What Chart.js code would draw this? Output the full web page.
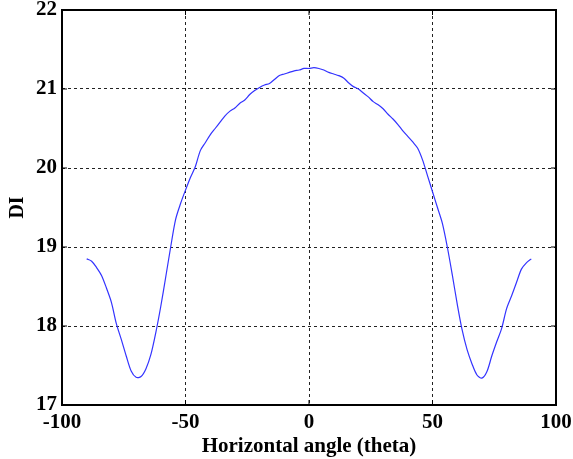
<!DOCTYPE html>
<html lang="en">
<head>
    <meta charset="UTF-8">
    <title>DI vs Horizontal angle</title>
    <style>
        body { margin: 0; background: #fff; }
        .CardStyle { width: 573px; height: 459px; }
    </style>
</head>
<body>
    <div class="CardStyle">
        <canvas id="myChart" width="573" height="459"></canvas>
    </div>

    <script src="https://cdn.jsdelivr.net/npm/chart.js"></script>
    <script>
    // angles (deg) and DI values
    const angles = [-90, -88, -86, -84, -82, -80, -78, -76, -74, -72, -70, -68, -66, -64, -62, -60,
        -58, -56, -54, -52, -50, -48, -46, -44, -42, -40, -38, -36, -34, -32, -30, -28, -26, -24,
        -22, -20, -18, -16, -14, -12, -10, -8, -6, -4, -2, 0, 2, 4, 6, 8, 10, 12, 14, 16, 18, 20,
        22, 24, 26, 28, 30, 32, 34, 36, 38, 40, 42, 44, 46, 48, 50, 52, 54, 56, 58, 60, 62, 64,
        66, 68, 70, 72, 74, 76, 78, 80, 82, 84, 86, 88, 90];
    const diValues = [18.85, 18.82, 18.74, 18.64, 18.48, 18.30, 18.03, 17.83, 17.62, 17.43, 17.35,
        17.36, 17.46, 17.64, 17.92, 18.25, 18.62, 19.00, 19.35, 19.55, 19.72, 19.88, 20.02, 20.22,
        20.32, 20.42, 20.50, 20.58, 20.66, 20.72, 20.76, 20.82, 20.86, 20.93, 20.98, 21.02, 21.05,
        21.07, 21.12, 21.17, 21.19, 21.21, 21.23, 21.24, 21.26, 21.26, 21.27, 21.26, 21.24, 21.21,
        21.19, 21.17, 21.14, 21.08, 21.03, 21.00, 20.95, 20.90, 20.84, 20.80, 20.75, 20.68, 20.62,
        20.55, 20.47, 20.40, 20.33, 20.25, 20.10, 19.90, 19.70, 19.50, 19.30, 19.00, 18.65, 18.28,
        17.95, 17.70, 17.52, 17.38, 17.34, 17.42, 17.62, 17.80, 17.97, 18.22, 18.38, 18.55, 18.72,
        18.80, 18.85];
    const xTicks = [-100, -50, 0, 50, 100];
    const yTicks = [17, 18, 19, 20, 21, 22];

    const points = angles.map((a, i) => ({ x: a, y: diValues[i] }));

    // box + inward ticks, matlab style
    const boxPlugin = {
        id: 'box',
        afterDraw(chart) {
            const { ctx, chartArea: a, scales } = chart;
            ctx.save();
            ctx.strokeStyle = '#000';
            ctx.lineWidth = 1;
            ctx.beginPath();
            xTicks.forEach(v => {
                const px = scales.x.getPixelForValue(v);
                ctx.moveTo(px, a.bottom); ctx.lineTo(px, a.bottom - 5);
                ctx.moveTo(px, a.top); ctx.lineTo(px, a.top + 5);
            });
            yTicks.forEach(v => {
                const py = scales.y.getPixelForValue(v);
                ctx.moveTo(a.left, py); ctx.lineTo(a.left + 5, py);
                ctx.moveTo(a.right, py); ctx.lineTo(a.right - 5, py);
            });
            ctx.stroke();
            ctx.lineWidth = 2;
            ctx.strokeRect(a.left, a.top, a.right - a.left, a.bottom - a.top);
            ctx.restore();
        }
    };

    const ctx = document.getElementById('myChart');
    const chartConfig = {
        type: 'line',
        data: {
            datasets: [{
                data: points,
                borderColor: '#3333ff',
                borderWidth: 1.2,
                pointRadius: 0,
                tension: 0.3,
                fill: false,
            }]
        },
        options: {
            responsive: false,
            animation: false,
            layout: { padding: { top: 10, right: 17, left: 0, bottom: 0 } },
            plugins: {
                legend: { display: false },
                tooltip: { enabled: false },
            },
            scales: {
                x: {
                    type: 'linear',
                    min: -100,
                    max: 100,
                    afterBuildTicks: s => { s.ticks = xTicks.map(v => ({ value: v })); },
                    afterFit: s => { s.height = 54; s.paddingLeft = 0; s.paddingRight = 0; },
                    grid: {
                        color: '#222',
                        drawTicks: false,
                    },
                    border: { display: false, dash: [3, 3] },
                    ticks: {
                        color: '#000',
                        padding: 5,
                        maxRotation: 0,
                        font: { family: 'Liberation Serif', weight: 'bold', size: 21 },
                    },
                    title: {
                        display: true,
                        text: 'Horizontal angle (theta)',
                        color: '#000',
                        padding: { top: 0, bottom: 0 },
                        font: { family: 'Liberation Serif', weight: 'bold', size: 21 },
                    },
                },
                y: {
                    min: 17,
                    max: 22,
                    afterBuildTicks: s => { s.ticks = yTicks.map(v => ({ value: v })); },
                    afterFit: s => { s.width = 62; s.paddingTop = 0; s.paddingBottom = 0; },
                    grid: {
                        color: '#222',
                        drawTicks: false,
                    },
                    border: { display: false, dash: [3, 3] },
                    ticks: {
                        color: '#000',
                        padding: 5,
                        font: { family: 'Liberation Serif', weight: 'bold', size: 21 },
                    },
                    title: {
                        display: true,
                        text: 'DI',
                        color: '#000',
                        padding: { top: 6, bottom: 2 },
                        font: { family: 'Liberation Serif', weight: 'bold', size: 20 },
                    },
                },
            },
        },
        plugins: [boxPlugin],
    };
    const myChart = new Chart(ctx, chartConfig);
    </script>
</body>
</html>
